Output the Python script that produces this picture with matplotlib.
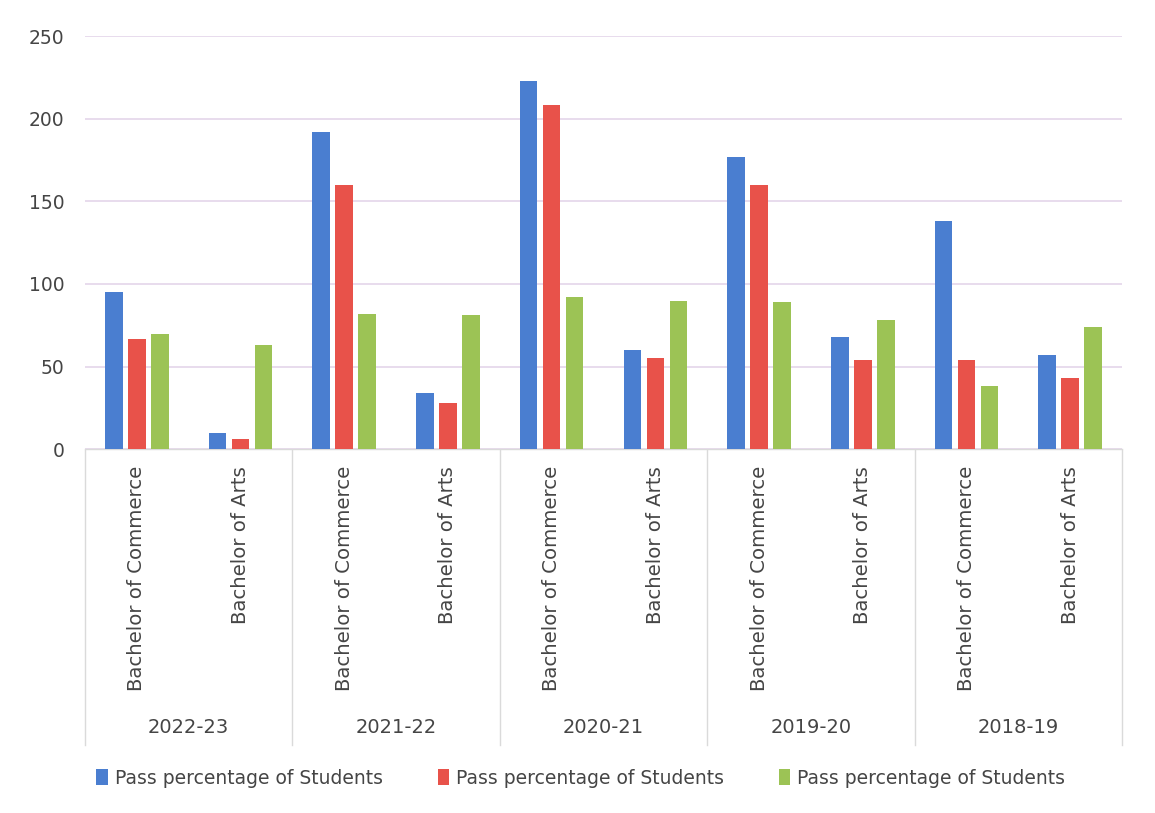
import matplotlib
matplotlib.use("Agg")
import matplotlib.pyplot as plt
from matplotlib.transforms import blended_transform_factory
from matplotlib.lines import Line2D
from matplotlib.patches import Patch

years = ["2022-23", "2021-22", "2020-21", "2019-20", "2018-19"]
programs = ["Bachelor of Commerce", "Bachelor of Arts"]
series_names = ["Pass percentage of Students", "Pass percentage of Students", "Pass percentage of Students"]
blue_vals = [95, 10, 192, 34, 223, 60, 177, 68, 138, 57]
red_vals = [67, 6, 160, 28, 208, 55, 160, 54, 54, 43]
green_vals = [70, 63, 82, 81, 92, 90, 89, 78, 38, 74]
y_ticks = [0, 50, 100, 150, 200, 250]

colors = ["#4A7ED0", "#E8524A", "#9CC355"]
text_color = "#454545"
grid_color = "#E4D6EA"

plt.rcParams['font.family'] = ['DejaVu Sans']

W, H = 1155, 813
fig = plt.figure(figsize=(W / 100, H / 100), dpi=100)
fig.patch.set_facecolor("#FFFFFF")

y0_px, ytop_px = 449.3, 36.0
left_px, right_px = 85, 1122
ax = fig.add_axes([left_px / W, 1 - y0_px / H, (right_px - left_px) / W, (y0_px - ytop_px) / H])
ax.set_facecolor("none")

labels = [p for y in years for p in programs]
n = len(labels)
xs = list(range(n))
width = 0.17
offs = [-0.222, 0.0, 0.222]
for vals, c, off, name in zip([blue_vals, red_vals, green_vals], colors, offs, series_names):
    ax.bar([x + off for x in xs], vals, width=width, color=c, label=name, zorder=3)

ax.set_xlim(-0.5, n - 0.5)
ax.set_ylim(0, 250)
ax.set_yticks(y_ticks)
ax.set_yticklabels([str(v) for v in y_ticks], fontsize=13.5, color=text_color)
ax.tick_params(axis='y', length=0, pad=15)
ax.yaxis.grid(True, color=grid_color, linewidth=1.2, zorder=0)
for s in ["top", "right", "left"]:
    ax.spines[s].set_visible(False)
ax.spines["bottom"].set_color("#DADADA")
ax.spines["bottom"].set_linewidth(1.0)

ax.set_xticks(xs)
ax.set_xticklabels(labels, rotation=90, fontsize=14.2, color=text_color, va="top", ha="center")
ax.tick_params(axis='x', length=0, pad=12)

trans = blended_transform_factory(ax.transData, fig.transFigure)
for b in [-0.5 + 2 * i for i in range(len(years) + 1)]:
    fig.add_artist(Line2D([b, b], [1 - 450 / H, 1 - 745 / H], transform=trans,
                          color="#DADADA", linewidth=1.0))
for i, yr in enumerate(years):
    ax.text(2 * i + 0.5, 1 - 727 / H, yr, transform=trans, ha="center", va="center",
            fontsize=14, color=text_color)

handles = [Patch(facecolor=c) for c in colors]
fig.legend(handles, series_names, loc="center", bbox_to_anchor=(0.503, 1 - 778 / H), ncol=3,
           frameon=False, fontsize=13.5, labelcolor=text_color, handlelength=0.6,
           handleheight=0.9, handletextpad=0.4, columnspacing=2.9)

fig.savefig("out.png", dpi=100, facecolor=fig.get_facecolor())
